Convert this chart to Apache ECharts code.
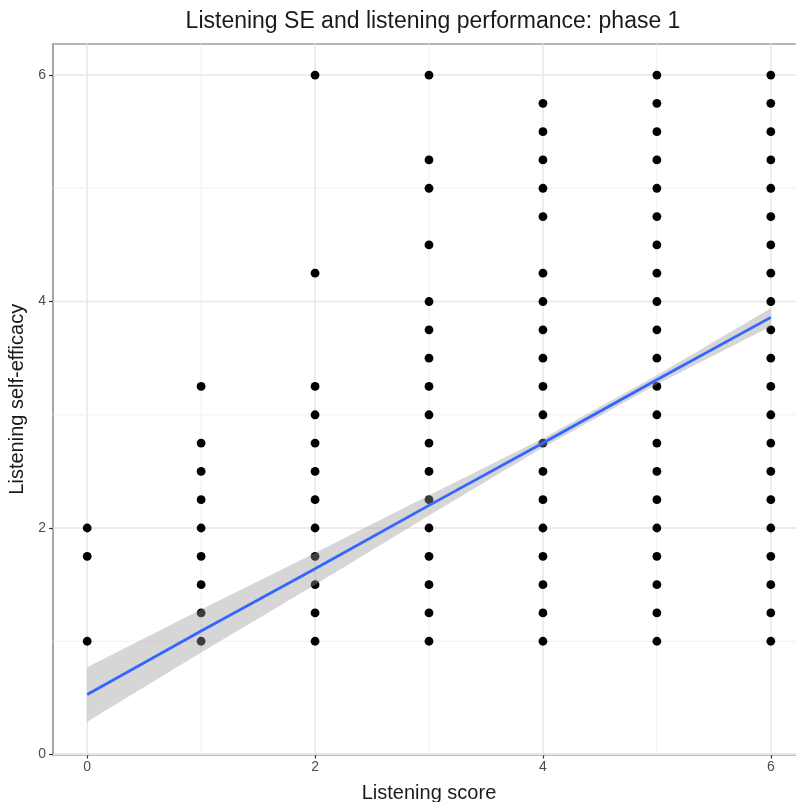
<!DOCTYPE html>
<html>
<head>
<meta charset="utf-8">
<script src="https://cdn.jsdelivr.net/npm/echarts@6/dist/echarts.min.js"></script>
<style>
  html, body { margin: 0; padding: 0; background: #fff; }
  #chart { width: 796px; height: 802px; }
</style>
</head>
<body>
<div id="chart"></div>
<script>
// Listening self-efficacy values observed at each listening score
const scoreLevels = [0, 1, 2, 3, 4, 5, 6];
const seAtScore0 = [1, 1.75, 2];
const seAtScore1 = [1, 1.25, 1.5, 1.75, 2, 2.25, 2.5, 2.75, 3.25];
const seAtScore2 = [1, 1.25, 1.5, 1.75, 2, 2.25, 2.5, 2.75, 3, 3.25, 4.25, 6];
const seAtScore3 = [1, 1.25, 1.5, 1.75, 2, 2.25, 2.5, 2.75, 3, 3.25, 3.5, 3.75, 4, 4.5, 5, 5.25, 6];
const seAtScore4 = [1, 1.25, 1.5, 1.75, 2, 2.25, 2.5, 2.75, 3, 3.25, 3.5, 3.75, 4, 4.25, 4.75, 5, 5.25, 5.5, 5.75];
const seAtScore5 = [1, 1.25, 1.5, 1.75, 2, 2.25, 2.5, 2.75, 3, 3.25, 3.5, 3.75, 4, 4.25, 4.5, 4.75, 5, 5.25, 5.5, 5.75, 6];
const seAtScore6 = [1, 1.25, 1.5, 1.75, 2, 2.25, 2.5, 2.75, 3, 3.25, 3.5, 3.75, 4, 4.25, 4.5, 4.75, 5, 5.25, 5.5, 5.75, 6];

// Linear fit with its 95% confidence band, evaluated at each score
const fitX = [0, 1, 2, 3, 4, 5, 6];
const fitY = [0.53, 1.09, 1.64, 2.20, 2.75, 3.31, 3.86];
const ciLower = [0.29, 0.90, 1.50, 2.11, 2.71, 3.27, 3.78];
const ciUpper = [0.77, 1.28, 1.78, 2.29, 2.79, 3.35, 3.94];

// Axis breaks
const majorBreaks = [0, 2, 4, 6];
const minorBreaks = [1, 3, 5];

const seColumns = [seAtScore0, seAtScore1, seAtScore2, seAtScore3, seAtScore4, seAtScore5, seAtScore6];
const pointData = [];
seColumns.forEach(function (col, i) {
  col.forEach(function (v) { pointData.push([scoreLevels[i], v]); });
});

// grid line records: [value, direction ('x' vertical / 'y' horizontal), isMajor]
const gridLineData = [];
majorBreaks.forEach(function (v) { gridLineData.push([v, 'x', 1]); gridLineData.push([v, 'y', 1]); });
minorBreaks.forEach(function (v) { gridLineData.push([v, 'x', 0]); gridLineData.push([v, 'y', 0]); });

const FONT = 'Liberation Sans, Arial, sans-serif';

const chart = echarts.init(document.getElementById('chart'), null, { renderer: 'canvas' });

chart.setOption({
  animation: false,
  backgroundColor: '#ffffff',
  title: {
    text: 'Listening SE and listening performance: phase 1',
    left: 428,
    top: 5,
    textAlign: 'center',
    textStyle: { fontFamily: FONT, fontSize: 23, fontWeight: 'normal', color: '#1a1a1a' }
  },
  grid: {
    left: 53, top: 44, width: 752, height: 710.5,
    outerBoundsMode: 'none', containLabel: false,
    show: true, borderColor: '#a0a0a0', borderWidth: 1.5, backgroundColor: '#fff'
  },
  xAxis: {
    type: 'value', min: -0.3, max: 6.3,
    name: 'Listening score', nameLocation: 'middle', nameGap: 29,
    nameTextStyle: { fontFamily: FONT, fontSize: 20, color: '#1a1a1a' },
    axisLine: { show: true, onZero: false, lineStyle: { color: '#a0a0a0', width: 1.5 } },
    axisTick: { show: true, customValues: majorBreaks, length: 4, lineStyle: { color: '#333', width: 1.2 } },
    axisLabel: { customValues: majorBreaks, fontFamily: FONT, fontSize: 14, color: '#4d4d4d', margin: 6 },
    splitLine: { show: false }
  },
  yAxis: {
    type: 'value', min: 0, max: 6.274,
    name: 'Listening self-efficacy', nameLocation: 'middle', nameGap: 22, nameRotate: 90,
    nameTextStyle: { fontFamily: FONT, fontSize: 20, color: '#1a1a1a' },
    axisLine: { show: true, onZero: false, lineStyle: { color: '#a0a0a0', width: 1.5 } },
    axisTick: { show: true, customValues: majorBreaks, length: 4, lineStyle: { color: '#333', width: 1.2 } },
    axisLabel: { customValues: majorBreaks, fontFamily: FONT, fontSize: 14, color: '#4d4d4d', margin: 7 },
    splitLine: { show: false }
  },
  series: [
    {
      // panel grid lines
      type: 'custom', z: 1, silent: true,
      data: gridLineData,
      encode: { x: -1, y: -1 },
      renderItem: function (params, api) {
        const v = api.value(0);
        const dir = gridLineData[params.dataIndex][1];
        const major = gridLineData[params.dataIndex][2] === 1;
        const cs = params.coordSys;
        let shape;
        if (dir === 'x') {
          const p = api.coord([v, 0]);
          shape = { x1: p[0], y1: cs.y, x2: p[0], y2: cs.y + cs.height };
        } else {
          const p = api.coord([0, v]);
          shape = { x1: cs.x, y1: p[1], x2: cs.x + cs.width, y2: p[1] };
        }
        return {
          type: 'line', shape: shape,
          style: { stroke: major ? '#e6e6e6' : '#f0f0f0', lineWidth: major ? 1.4 : 1 }
        };
      }
    },
    {
      type: 'scatter', data: pointData, z: 2,
      symbol: 'circle', symbolSize: 8.8,
      itemStyle: { color: '#000000', opacity: 1 }
    },
    {
      // confidence band
      type: 'custom', z: 3, silent: true,
      data: [[0, 0]],
      renderItem: function (params, api) {
        const pts = [];
        for (let i = 0; i < fitX.length; i++) pts.push(api.coord([fitX[i], ciUpper[i]]));
        for (let i = fitX.length - 1; i >= 0; i--) pts.push(api.coord([fitX[i], ciLower[i]]));
        return { type: 'polygon', shape: { points: pts }, style: { fill: 'rgba(153,153,153,0.4)' } };
      }
    },
    {
      type: 'line', z: 4, silent: true,
      data: fitX.map(function (x, i) { return [x, fitY[i]]; }),
      showSymbol: false, symbol: 'none',
      lineStyle: { color: '#3366ff', width: 2.8 }
    }
  ]
});
</script>
</body>
</html>
